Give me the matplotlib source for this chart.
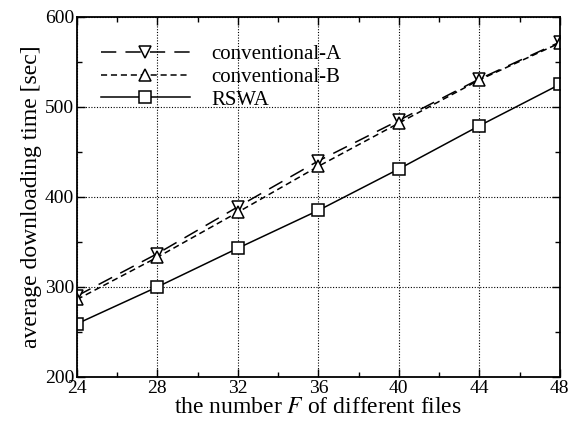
import matplotlib
matplotlib.use("Agg")
import matplotlib.pyplot as plt
from matplotlib.ticker import MultipleLocator

plt.rcParams['font.family'] = ['Liberation Serif', 'DejaVu Serif']
plt.rcParams['mathtext.fontset'] = 'stix'

files = [24, 28, 32, 36, 40, 44, 48]
conv_a = [290, 337, 389, 440, 485, 531, 572]
conv_b = [286, 333, 383, 434, 482, 530, 571]
rswa = [259, 300, 343, 385, 431, 479, 525]

fig = plt.figure(figsize=(5.70, 4.23), dpi=100)
ax = fig.add_axes([0.135, 0.109, 0.847, 0.851])

mk = dict(markersize=8, markerfacecolor='white', markeredgecolor='black',
          markeredgewidth=1.1, color='black', linewidth=1.1)
ax.plot(files, conv_a, marker='v', dashes=(10, 6), label='conventional-A', **mk)
ax.plot(files, conv_b, marker='^', dashes=(4, 2.5), label='conventional-B', **mk)
ax.plot(files, rswa, marker='s', linestyle='-', label='RSWA', **mk)

ax.set_xlim(24, 48)
ax.set_ylim(200, 600)
ax.xaxis.set_major_locator(MultipleLocator(4))
ax.xaxis.set_minor_locator(MultipleLocator(2))
ax.yaxis.set_major_locator(MultipleLocator(100))
ax.yaxis.set_minor_locator(MultipleLocator(50))
ax.tick_params(which='both', direction='in', top=True, right=True, labelsize=14, pad=2)
ax.tick_params(which='major', length=6, width=1)
ax.tick_params(which='minor', length=3.5, width=1)
ax.grid(True, which='major', linestyle=(0, (1, 1.5)), color='black', linewidth=0.8)
for s in ax.spines.values():
    s.set_linewidth(1.3)

ax.set_xlabel('the number $F$ of different files', fontsize=17, labelpad=0)
ax.set_ylabel('average downloading time [sec]', fontsize=17, labelpad=2)

leg = ax.legend(loc='upper left', bbox_to_anchor=(0.01, 0.975), frameon=False,
                fontsize=15, handlelength=4.3, handletextpad=1.0, labelspacing=0.15)

fig.savefig('out.png', dpi=100)
